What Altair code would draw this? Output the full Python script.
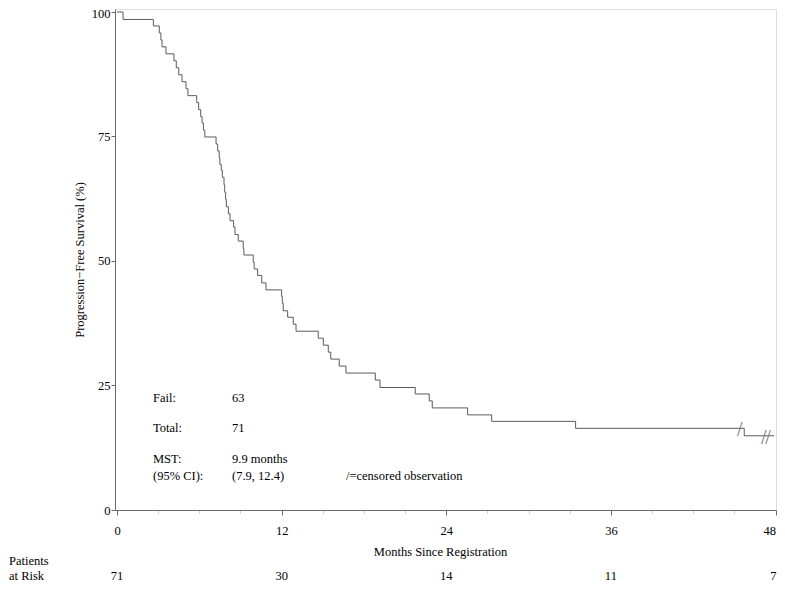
import altair as alt
import pandas as pd

# ---- data ----
months = [0, 0.44, 2.65, 3.08, 3.2, 3.28, 3.57, 4.15, 4.32, 4.5, 4.74, 5.03, 5.17, 5.81,
          5.95, 6.1, 6.2, 6.3, 6.4, 7.22, 7.34, 7.45, 7.5, 7.6, 7.68, 7.8, 7.85, 7.92,
          7.97, 8.12, 8.24, 8.5, 8.6, 8.84, 9.2, 9.25, 9.93, 10.0, 10.25, 10.55, 10.86,
          12.0, 12.05, 12.12, 12.44, 12.85, 13.05, 14.67, 15.04, 15.4, 15.58, 16.2,
          16.69, 18.83, 19.17, 21.74, 22.76, 22.98, 25.56, 27.31, 33.43, 45.72, 47.9]
survival = [100, 98.5, 97.2, 95.8, 94.4, 93.0, 91.6, 90.2, 88.8, 87.4, 86.0, 84.6, 83.2,
            81.8, 80.4, 79.0, 77.7, 76.3, 74.9, 73.5, 72.1, 70.7, 69.4, 68.2, 66.8, 65.3,
            63.8, 62.4, 60.9, 59.5, 58.1, 56.8, 55.3, 54.0, 52.5, 51.2, 49.7, 48.4, 47.1,
            45.6, 44.2, 42.9, 41.5, 40.0, 38.7, 37.3, 35.9, 34.5, 33.1, 31.7, 30.3, 28.9,
            27.5, 26.1, 24.6, 23.3, 21.9, 20.5, 19.1, 17.8, 16.4, 14.9, 14.9]

censor_months = [45.4, 47.15, 47.45]
censor_surv = [16.4, 14.9, 14.9]

x_all_ticks = list(range(0, 49, 3))
y_ticks = [0, 25, 50, 75, 100]

risk_months = [0, 12, 24, 36, 48]
risk_counts = ["71", "30", "14", "11", "7"]

ann_text = ["Fail:", "63", "Total:", "71", "MST:", "9.9 months", "(95% CI):", "(7.9, 12.4)",
            "/=censored observation"]
ann_px = [38, 117, 38, 117, 38, 117, 38, 117, 231]
ann_py = [389, 389, 419, 419, 450, 450, 467, 467, 467]

FONT = "Liberation Serif"
FS = 12.5
LINE = "#5a5a5a"
FRAME = "#6a6a6a"

W, H = 661, 501

curve = pd.DataFrame({"t": months, "s": survival})
cens = pd.DataFrame({"t": censor_months, "s": censor_surv, "m": ["/"] * len(censor_months)})
risk = pd.DataFrame({"t": risk_months, "n": risk_counts})

xscale = alt.Scale(domain=[-0.146, 48.036], nice=False, zero=False)
yscale = alt.Scale(domain=[0, 100.6], nice=False, zero=False)

xaxis = alt.Axis(
    values=x_all_ticks,
    labelExpr="datum.value % 12 === 0 ? datum.label : ''",
    labelOverlap=False,
    labelFlush=1,
    tickSize={"condition": {"test": "datum.value % 12 === 0", "value": 5}, "value": 3},
    tickColor={"condition": {"test": "datum.value % 12 === 0", "value": FRAME}, "value": "#c8c8c8"},
    labelPadding=9,
    labelFont=FONT, labelFontSize=FS, labelColor="black",
    title="Months Since Registration",
    titleFont=FONT, titleFontSize=FS, titleFontWeight="normal", titleColor="black",
    titlePadding=9, titleX=325,
    grid=False, domainColor=FRAME,
)
yaxis = alt.Axis(
    values=y_ticks,
    tickSize=4, tickColor=FRAME,
    labelPadding=1,
    labelOffset={"condition": {"test": "datum.value === 100", "value": 2}, "value": 0},
    labelFont=FONT, labelFontSize=FS, labelColor="black",
    title="Progression\u2212Free Survival (%)",
    titleFont=FONT, titleFontSize=FS, titleFontWeight="normal", titleColor="black",
    titlePadding=5,
    grid=False, domainColor=FRAME,
)

line = alt.Chart(curve).mark_line(interpolate="step-after", color=LINE, strokeWidth=1).encode(
    x=alt.X("t:Q", scale=xscale, axis=xaxis),
    y=alt.Y("s:Q", scale=yscale, axis=yaxis),
)

marks = alt.Chart(cens).mark_text(font=FONT, fontSize=20, color="#777777", dy=2).encode(
    x=alt.X("t:Q", scale=xscale, axis=xaxis),
    y=alt.Y("s:Q", scale=yscale, axis=yaxis),
    text="m:N",
)

risk_mid = alt.Chart(risk).transform_filter("datum.t < 48").mark_text(
    font=FONT, fontSize=FS, color="black", baseline="middle"
).encode(
    x=alt.X("t:Q", scale=xscale, axis=xaxis),
    y=alt.value(567),
    text="n:N",
)
risk_end = alt.Chart(risk).transform_filter("datum.t >= 48").mark_text(
    font=FONT, fontSize=FS, color="black", baseline="middle", align="right", dx=1
).encode(
    x=alt.X("t:Q", scale=xscale, axis=xaxis),
    y=alt.value(567),
    text="n:N",
)

layers = [line, marks, risk_mid, risk_end]

for txt, px, py in zip(ann_text, ann_px, ann_py):
    layers.append(
        alt.Chart(pd.DataFrame({"label": [txt]})).mark_text(
            font=FONT, fontSize=FS, color="black", align="left", baseline="middle"
        ).encode(x=alt.value(px), y=alt.value(py), text="label:N")
    )

for txt, py in [("Patients", 552), ("at Risk", 567)]:
    layers.append(
        alt.Chart(pd.DataFrame({"label": [txt]})).mark_text(
            font=FONT, fontSize=FS, color="black", align="left", baseline="middle"
        ).encode(x=alt.value(-106), y=alt.value(py), text="label:N")
    )

chart = alt.layer(*layers).properties(
    width=W, height=H,
    autosize=alt.AutoSizeParams(type="none"),
    padding={"left": 107, "top": 1, "right": 1, "bottom": 73},
).configure_view(
    stroke=FRAME, strokeWidth=1
).configure(background="white")

chart.save("out.html", embed_options={"renderer": "svg", "actions": False})
